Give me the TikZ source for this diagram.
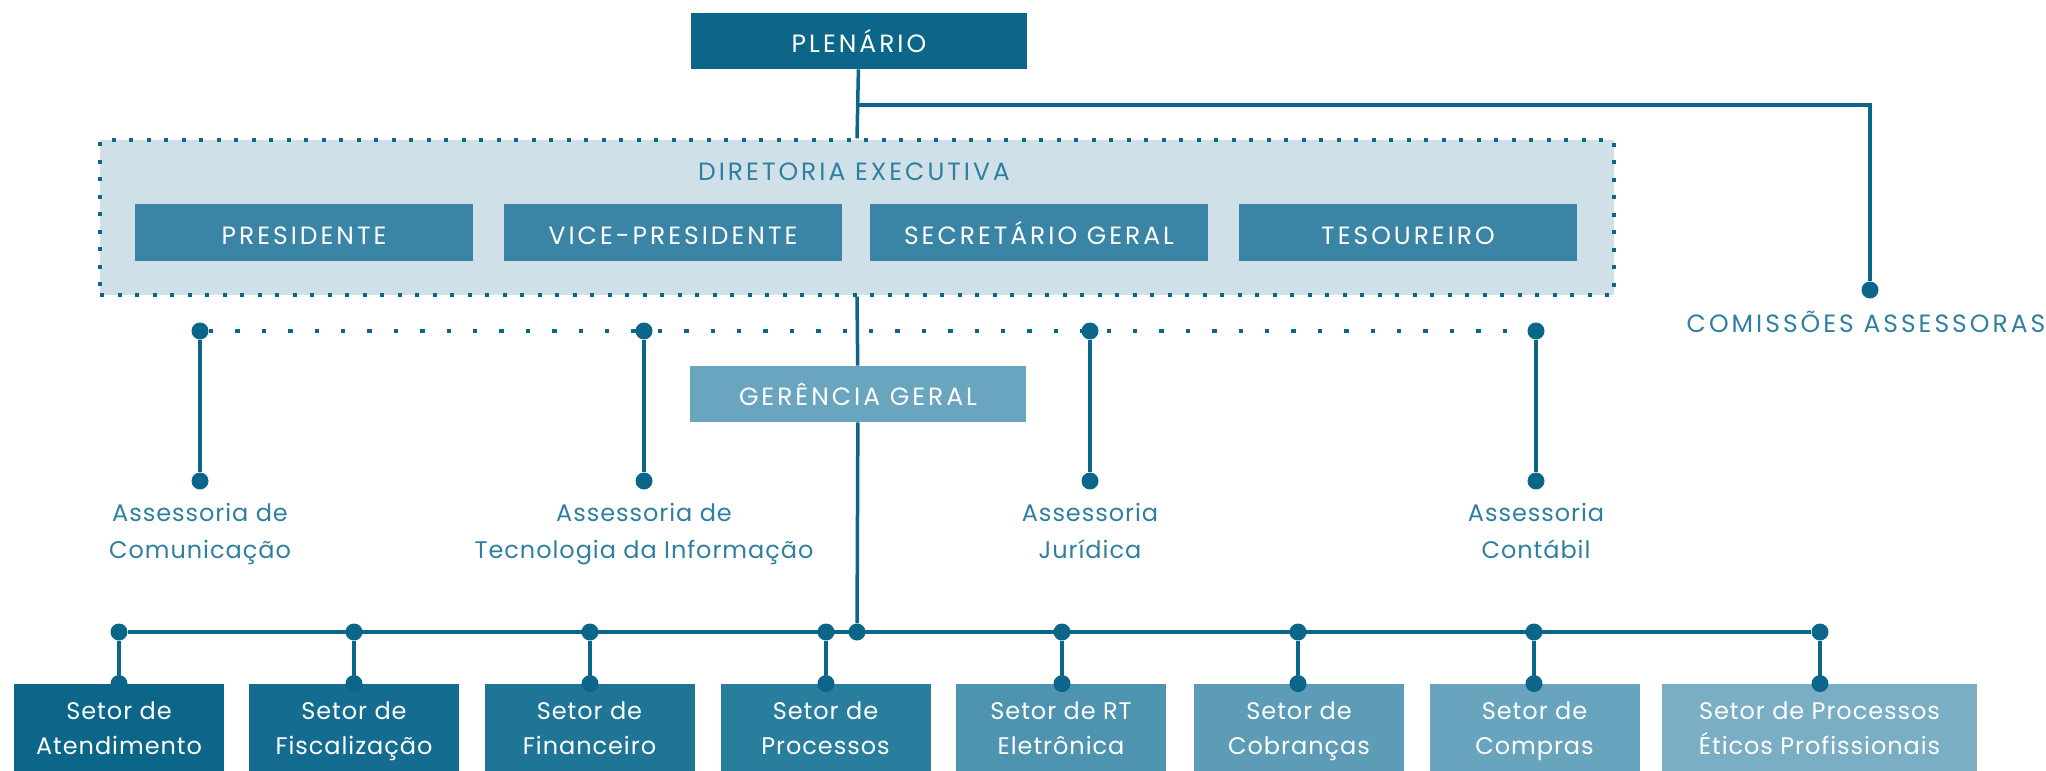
\documentclass[tikz,border=0pt]{standalone}
\usepackage{fontspec}
\setmainfont[LetterSpace=4]{Poppins}
\newfontfamily\capsfont[LetterSpace=12]{Poppins}
\usetikzlibrary{positioning}

\definecolor{deepblue}{HTML}{0B6689}
\definecolor{midblue}{HTML}{3A85A5}
\definecolor{paleblue}{HTML}{CFE0E8}
\definecolor{softblue}{HTML}{6AA5BF}
\definecolor{labelblue}{HTML}{2E7FA0}
\definecolor{setorA}{HTML}{0B6689}
\definecolor{setorB}{HTML}{146D90}
\definecolor{setorC}{HTML}{1E7596}
\definecolor{setorD}{HTML}{2A7E9D}
\definecolor{setorE}{HTML}{4E93B0}
\definecolor{setorF}{HTML}{5C9CB6}
\definecolor{setorG}{HTML}{69A4BE}
\definecolor{setorH}{HTML}{79AEC4}

\tikzset{
  topbox/.style={fill=#1, text=white, inner sep=0pt, minimum width=168pt, minimum height=28pt,
    text height=11.9pt, text depth=0pt, font=\capsfont\fontsize{12.5}{15}\selectfont},
  cargo/.style={fill=midblue, text=white, inner sep=0pt, minimum width=169pt, minimum height=28.5pt,
    text height=11.9pt, text depth=0pt, font=\capsfont\fontsize{12.5}{15}\selectfont},
  setor/.style={fill=#1, text=white, inner sep=0pt, minimum width=105pt, minimum height=43.5pt,
    align=center, font=\fontsize{12}{17.5}\selectfont, text height=27pt, text depth=0pt},
  assessoria/.style={text=labelblue, align=center, inner sep=0pt, font=\fontsize{12}{18.5}\selectfont,
    text height=25pt, text depth=0pt},
  titulo/.style={text=labelblue, inner sep=0pt, text height=9pt, text depth=0pt,
    font=\capsfont\fontsize{12.5}{15}\selectfont},
  dot/.style={circle, fill=deepblue, inner sep=0pt, minimum size=8.5pt},
  linha/.style={draw=deepblue, line width=1.75pt},
  pontilhado/.style={draw=deepblue, line width=2.2pt, dash pattern=on 2.2pt off 11pt}
}

\begin{document}
\begin{tikzpicture}[x=0.5pt, y=-0.5pt]
\useasboundingbox (0,0) rectangle (2046,771);

% topo
\node[topbox=deepblue] (plenario) at (859,41) {PLENÁRIO};
\coordinate (ramo) at (857,105);
\node[dot] (comdot) at (1870,290) {};
\node[titulo] (comissoes) at (1866,323) {COMISSÕES ASSESSORAS};

% diretoria executiva
\node[fill=paleblue, draw=deepblue, line width=1.65pt, dash pattern=on 2pt off 6.75pt,
  inner sep=0pt, minimum width=757pt, minimum height=77.5pt] (diretoria) at (857,217.5) {};
\node[titulo] (dirtitulo) at (854,171) {DIRETORIA EXECUTIVA};
\node[cargo] (presidente) at (304,232.5) {PRESIDENTE};
\node[cargo] (vice) at (673,232.5) {VICE-PRESIDENTE};
\node[cargo] (secretario) at (1039,232.5) {SECRETÁRIO GERAL};
\node[cargo] (tesoureiro) at (1408,232.5) {TESOUREIRO};

% assessorias
\node[dot] (a1) at (200,331) {};
\node[dot] (a2) at (644,331) {};
\node[dot] (a3) at (1090,331) {};
\node[dot] (a4) at (1536,331) {};
\node[dot] (a1b) at (200,481) {};
\node[dot] (a2b) at (644,481) {};
\node[dot] (a3b) at (1090,481) {};
\node[dot] (a4b) at (1536,481) {};
\node[assessoria] (comunicacao) at (200,533) {Assessoria de\\Comunicação};
\node[assessoria] (tecnologia) at (644,533) {Assessoria de\\Tecnologia da Informação};
\node[assessoria] (juridica) at (1090,533) {Assessoria\\Jurídica};
\node[assessoria] (contabil) at (1536,533) {Assessoria\\Contábil};

\node[topbox=softblue] (gerencia) at (858,394) {GERÊNCIA GERAL};

% setores
\node[dot] (centro) at (857,632) {};
\node[dot] (s1) at (119,632) {};
\node[dot] (s2) at (354,632) {};
\node[dot] (s3) at (590,632) {};
\node[dot] (s4) at (826,632) {};
\node[dot] (s5) at (1062,632) {};
\node[dot] (s6) at (1298,632) {};
\node[dot] (s7) at (1534,632) {};
\node[dot] (s8) at (1820,632) {};

\node[setor=setorA] (atendimento) at (119,727.5) {Setor de\\Atendimento};
\node[setor=setorB] (fiscalizacao) at (354,727.5) {Setor de\\Fiscalização};
\node[setor=setorC] (financeiro) at (589.5,727.5) {Setor de\\Financeiro};
\node[setor=setorD] (processos) at (825.5,727.5) {Setor de\\Processos};
\node[setor=setorE] (rt) at (1061,727.5) {Setor de RT\\Eletrônica};
\node[setor=setorF] (cobrancas) at (1299,727.5) {Setor de\\Cobranças};
\node[setor=setorG] (compras) at (1534.5,727.5) {Setor de\\Compras};
\node[setor=setorH, minimum width=157.5pt] (eticos) at (1819.5,727.5) {Setor de Processos\\Éticos Profissionais};

% ligacoes
\path[linha] (plenario) -- (diretoria.north);
\path[linha] (ramo) -| (comdot);
\path[linha] (diretoria.south) -- (gerencia);
\path[linha] (gerencia) -- (centro);
\path[pontilhado] (a1) -- (a4);
\path[linha] (a1) -- (a1b);
\path[linha] (a2) -- (a2b);
\path[linha] (a3) -- (a3b);
\path[linha] (a4) -- (a4b);
\path[linha] (s1) -- (s8);
\foreach \s/\b in {s1/atendimento, s2/fiscalizacao, s3/financeiro, s4/processos,
                   s5/rt, s6/cobrancas, s7/compras, s8/eticos} {
  \path[linha] (\s) -- (\s |- \b.north);
  \node[dot] at (\s |- \b.north) {};
}
\end{tikzpicture}
\end{document}
